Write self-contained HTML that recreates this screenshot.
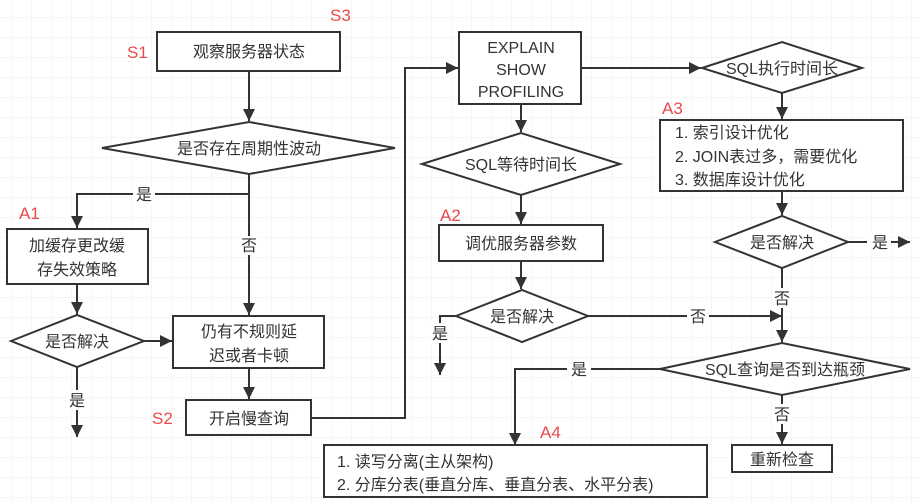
<!DOCTYPE html>
<html><head><meta charset="utf-8"><style>
html,body{margin:0;padding:0;background:#fff;}
svg{display:block;}
text{font-family:"Liberation Sans","Noto Sans CJK SC",sans-serif;font-size:16px;fill:#333;}
.r{fill:#e84a4a;font-size:17px;}
</style></head><body>
<svg width="920" height="504" viewBox="0 0 920 504" xmlns="http://www.w3.org/2000/svg">
<defs>
<pattern id="g" width="20" height="20" patternUnits="userSpaceOnUse" x="-8" y="-2">
<path d="M20 0V20M0 20H20" fill="none" stroke="#ececec" stroke-width="1"/>
</pattern>
<marker id="a" viewBox="0 0 10 10" refX="10" refY="5" markerWidth="12" markerHeight="12" markerUnits="userSpaceOnUse" orient="auto">
<path d="M0 0L10 5L0 10z" fill="#333"/>
</marker>
</defs>
<rect width="920" height="504" fill="#fff"/>
<rect width="920" height="504" fill="url(#g)"/>
<g stroke="#333" stroke-width="2" fill="#fff">
<rect x="157" y="32" width="183" height="39"/>
<polygon points="102,148 249,122 395,148 249,174"/>
<rect x="7" y="229" width="141" height="55"/>
<polygon points="11,341 77,315 144,341 77,367"/>
<rect x="173" y="316" width="151" height="52"/>
<rect x="186" y="400" width="125" height="35"/>
<rect x="459" y="32" width="122" height="72"/>
<polygon points="422,164 521,133 620,164 521,195"/>
<rect x="439" y="225" width="164" height="36"/>
<polygon points="456,316 522,290 588,316 522,342"/>
<polygon points="702,68 782,42 862,68 782,93"/>
<rect x="660" y="120" width="243" height="71"/>
<polygon points="715,242 782,216 848,242 782,268"/>
<polygon points="660,369 782,343 910,369 782,395"/>
<rect x="732" y="445" width="100" height="27"/>
<rect x="324" y="445" width="383" height="52"/>
</g>
<g stroke="#333" stroke-width="2" fill="none" marker-end="url(#a)">
<path d="M249 71V121"/>
<path d="M249 174V194H77V228"/>
<path d="M249 194V315"/>
<path d="M77 284V314"/>
<path d="M144 341H172"/>
<path d="M77 367V437"/>
<path d="M249 368V399"/>
<path d="M311 418H405V68H458"/>
<path d="M521 104V132"/>
<path d="M521 195V224"/>
<path d="M521 261V289"/>
<path d="M456 316H440V375"/>
<path d="M588 316H782"/>
<path d="M581 68H701"/>
<path d="M782 93V119"/>
<path d="M782 191V215"/>
<path d="M848 242H910"/>
<path d="M782 268V342"/>
<path d="M660 369H515V445"/>
<path d="M782 395V444"/>
</g>
<g fill="#fff">
<rect x="133" y="185" width="22" height="19"/>
<rect x="239" y="236" width="20" height="19"/>
<rect x="67" y="390" width="20" height="20"/>
<rect x="430" y="323" width="20" height="20"/>
<rect x="687" y="307" width="22" height="19"/>
<rect x="867" y="233" width="24" height="19"/>
<rect x="772" y="288" width="20" height="20"/>
<rect x="567" y="360" width="24" height="19"/>
<rect x="772" y="404" width="20" height="20"/>
</g>
<g text-anchor="middle">
<text x="249" y="57">观察服务器状态</text>
<text x="249" y="154">是否存在周期性波动</text>
<text x="144" y="200">是</text>
<text x="249" y="251">否</text>
<text x="77" y="251">加缓存更改缓</text>
<text x="77" y="275">存失效策略</text>
<text x="77" y="347">是否解决</text>
<text x="77" y="406">是</text>
<text x="249" y="337">仍有不规则延</text>
<text x="249" y="361">迟或者卡顿</text>
<text x="249" y="424">开启慢查询</text>
<text x="521" y="53">EXPLAIN</text>
<text x="521" y="75">SHOW</text>
<text x="521" y="97">PROFILING</text>
<text x="521" y="170">SQL等待时间长</text>
<text x="521" y="249">调优服务器参数</text>
<text x="522" y="322">是否解决</text>
<text x="440" y="339">是</text>
<text x="698" y="322">否</text>
<text x="782" y="74">SQL执行时间长</text>
<text x="782" y="248">是否解决</text>
<text x="880" y="248">是</text>
<text x="782" y="304">否</text>
<text x="785" y="375">SQL查询是否到达瓶颈</text>
<text x="579" y="375">是</text>
<text x="782" y="420">否</text>
<text x="782" y="465">重新检查</text>
</g>
<text x="675" y="138">1. 索引设计优化</text>
<text x="675" y="162">2. JOIN表过多，需要优化</text>
<text x="675" y="185">3. 数据库设计优化</text>
<text x="337" y="467">1. 读写分离(主从架构)</text>
<text x="337" y="490">2. 分库分表(垂直分库、垂直分表、水平分表)</text>
<text class="r" x="330" y="21">S3</text>
<text class="r" x="127" y="58">S1</text>
<text class="r" x="152" y="424">S2</text>
<text class="r" x="19" y="219">A1</text>
<text class="r" x="440" y="221">A2</text>
<text class="r" x="662" y="114">A3</text>
<text class="r" x="540" y="438">A4</text>
</svg>
</body></html>
